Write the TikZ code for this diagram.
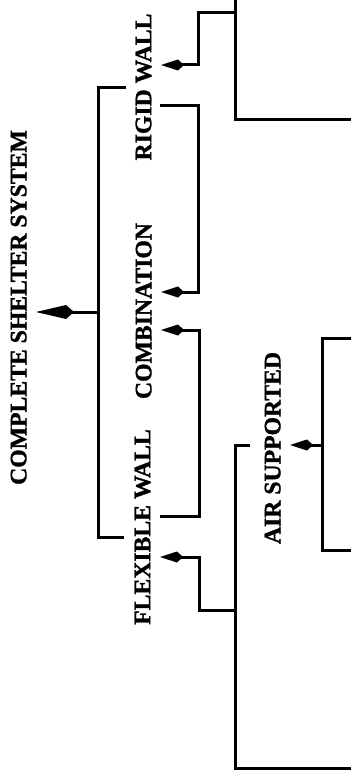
\documentclass[tikz,border=0pt]{standalone}
\usepackage{fontspec}
\setmainfont{Liberation Serif}[BoldFeatures={FakeBold=1.2}]
\usetikzlibrary{arrows.meta}
\begin{document}
\begin{tikzpicture}[x=1pt,y=-1pt,
  line width=3pt, line join=miter,
  lbl/.style={rotate=90, anchor=south, font=\bfseries\fontsize{23.7}{28}\selectfont, inner sep=7.9pt},
  bigarr/.style={-{Kite[length=38pt,width=14pt,inset=8pt]}},
  smallarr/.style={-{Kite[length=23pt,width=11pt,inset=6pt]}}]
\useasboundingbox (0,0) rectangle (351,775);
\node[lbl] (css) at (36,307.5) {COMPLETE SHELTER SYSTEM};
\node[lbl] (rigid) at (161,87) {RIGID WALL};
\node[lbl] (comb) at (161,311) {COMBINATION};
\node[lbl] (flex) at (160,527) {FLEXIBLE WALL};
\node[lbl] (air) at (290,448) {AIR SUPPORTED};
% main bracket
\coordinate (mt) at (126,88);
\coordinate (mb) at (124,537);
\coordinate (ms) at (98,312);
\draw (mt) -| (ms) |- (mb);
\draw[bigarr] (ms) -- (css.south |- ms);
% rigid wall
\coordinate (rj) at (198,65);
\coordinate (rt) at (235,13);
\coordinate (rtop) at (235,0);
\coordinate (rbot) at (235,120);
\coordinate (rout) at (351,120);
\draw[smallarr] (rt) -| (rj) -- (rigid.south |- rj);
\draw (rtop) -- (rbot) -- (rout);
% combination
\coordinate (c0) at (160,106);
\coordinate (c1) at (198,292);
\coordinate (c2) at (199,330);
\coordinate (c3) at (160,516);
\draw[smallarr] (c0) -| (c1) -- (comb.south |- c1);
\draw[smallarr] (c3) -| (c2) -- (comb.south |- c2);
% flexible wall
\coordinate (f1) at (199,557);
\coordinate (f2) at (235,610);
\coordinate (ftop) at (250,445);
\coordinate (fcor) at (235,445);
\coordinate (fbot) at (235,768);
\coordinate (fout) at (351,768);
\draw[smallarr] (f2) -| (f1) -- (flex.south |- f1);
\draw (ftop) -- (fcor) -- (fbot) -- (fout);
% air supported
\coordinate (a1) at (322,445);
\coordinate (atop) at (351,338);
\coordinate (abot) at (351,550);
\draw[smallarr] (a1) -- (air.south |- a1);
\draw (atop) -| (a1) |- (abot);
\end{tikzpicture}
\end{document}
